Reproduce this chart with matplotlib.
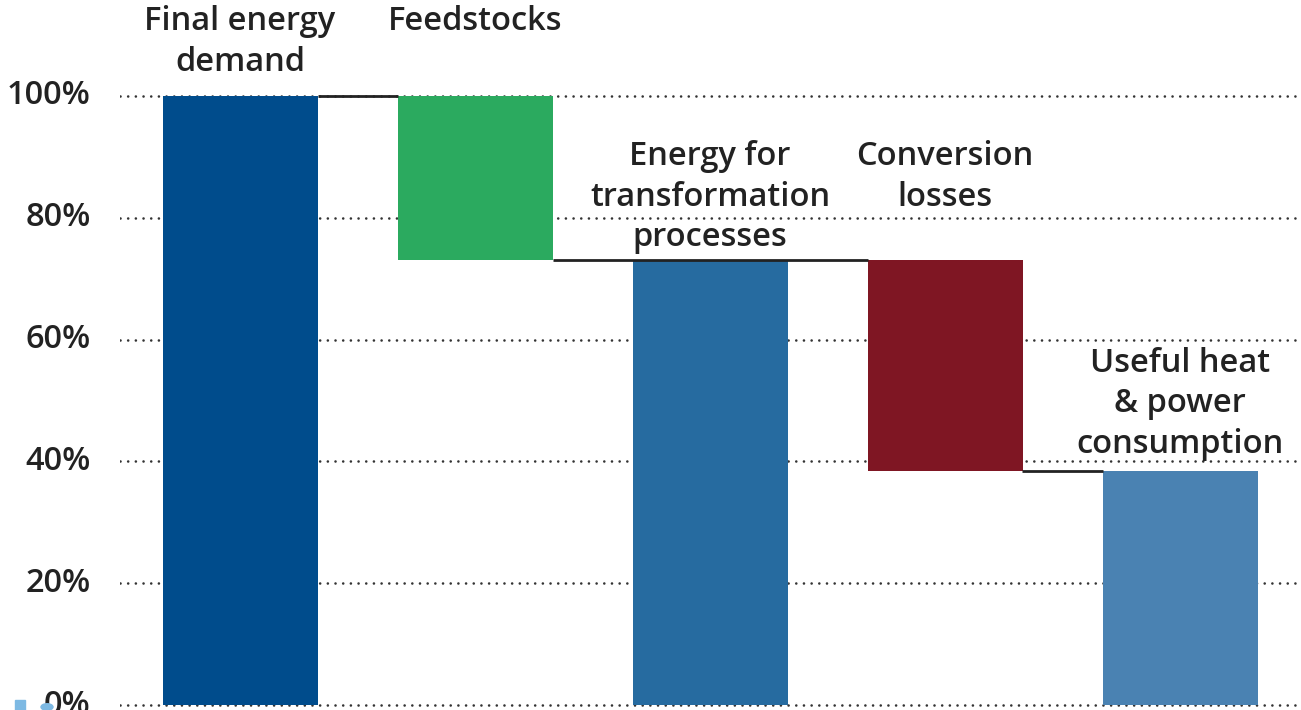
import matplotlib
matplotlib.use("Agg")
import matplotlib.pyplot as plt
from matplotlib.patches import Rectangle, Circle
from matplotlib.transforms import ScaledTranslation

categories = ["Final energy\ndemand", "Feedstocks", "Energy for\ntransformation\nprocesses",
              "Conversion\nlosses", "Useful heat\n& power\nconsumption"]
bar_bottoms = [0, 73, 0, 38.5, 0]
bar_heights = [100, 27, 73, 34.5, 38.5]
connector_levels = [100, 73, 38.5]
colors = ["#004C8C", "#2BAA5F", "#266BA0", "#7F1623", "#4A82B2"]
yticks = [0, 20, 40, 60, 80, 100]
ytick_labels = ["0%", "20%", "40%", "60%", "80%", "100%"]

plt.rcParams['font.family'] = ['Open Sans', 'DejaVu Sans']

W, H = 1301, 710
fig = plt.figure(figsize=(W / 100, H / 100), dpi=100)
ax_left, ax_right = 120, 1301
y0_px, y100_px = 705, 96
ppu = (y0_px - y100_px) / 100.0
ymin = -(H - y0_px) / ppu
ymax = y0_px / ppu
ax = fig.add_axes([ax_left / W, 0, (ax_right - ax_left) / W, 1])

x = list(range(len(categories)))
width = 155 / 235
ax.set_xlim(-120 / 235, 4 + 121 / 235)
ax.set_ylim(ymin, ymax)

for yv in yticks:
    ax.axhline(yv, color="#333333", lw=1.9, linestyle=(0, (0.01, 2.9)),
               dash_capstyle="round", zorder=1)

ax.bar(x, bar_heights, bottom=bar_bottoms, width=width, color=colors, zorder=2)

# connectors
pairs = [(0, 1), (1, 3), (3, 4)]
for (a, b), lvl in zip(pairs, connector_levels):
    ax.plot([a + width / 2, b - width / 2], [lvl, lvl], color="#222222", lw=2.0,
            solid_capstyle="butt", zorder=3)

# labels
label_y_px = [42, 22, 197, 177, 404]
for xi, lab, ypx in zip(x, categories, label_y_px):
    ax.text(xi, (y0_px - ypx) / ppu, lab, ha="center", va="center",
            fontsize=23.5, fontweight="semibold", color="#222222",
            linespacing=1.3, zorder=4)

ax.set_yticks(yticks)
ax.set_yticklabels(ytick_labels, fontsize=23.5, fontweight="semibold", color="#222222")
ax.tick_params(axis="y", length=0, pad=21)
shift = ScaledTranslation(0, 4 / 100, fig.dpi_scale_trans)
for lbl in ax.get_yticklabels():
    lbl.set_transform(lbl.get_transform() + shift)
ax.set_xticks([])
for s in ax.spines.values():
    s.set_visible(False)

# clipped legend fragments at bottom-left
fig.patches.append(Rectangle((15 / W, 0), 10 / W, 10 / H, transform=fig.transFigure,
                             color="#7DB9E3", zorder=0))
fig.patches.append(Circle((47 / W, 3 / H), 6 / W, transform=fig.transFigure,
                          color="#7DB9E3", zorder=0))

fig.savefig("out.png", dpi=100)
